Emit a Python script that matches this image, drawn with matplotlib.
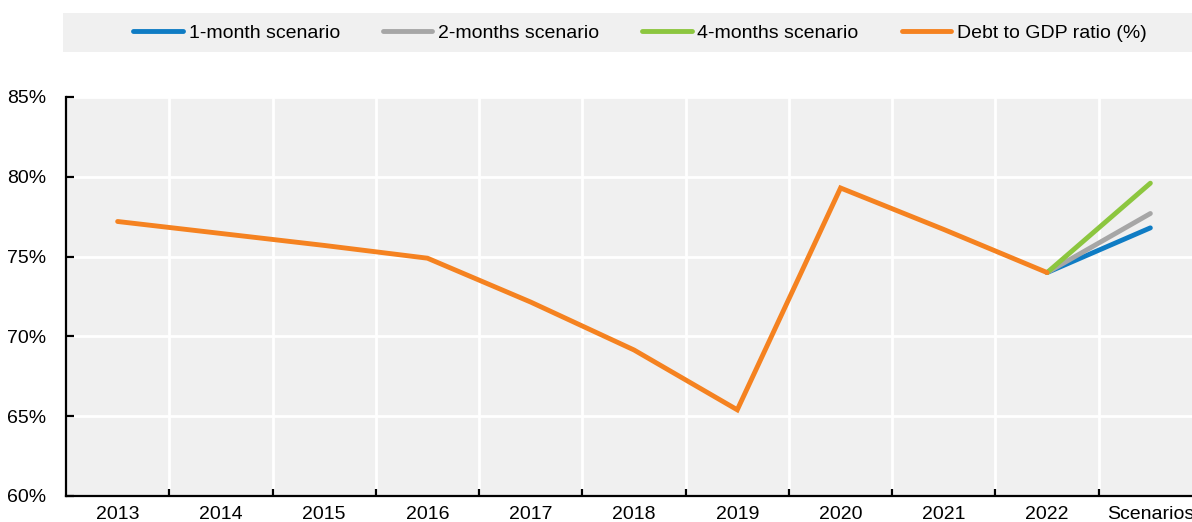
import matplotlib.pyplot as plt
import numpy as np

# Values (%)
categories = ["2013", "2014", "2015", "2016", "2017", "2018", "2019",
              "2020", "2021", "2022", "Scenarios"]
debt_ratio = [77.2, 76.45, 75.7, 74.9, 72.15, 69.15, 65.4, 79.3, 76.7, 74.0]
scenario_1m = 76.8
scenario_2m = 77.7
scenario_4m = 79.6
yticks = [60, 65, 70, 75, 80, 85]

colors = {"1m": "#0f7cc4", "2m": "#a6a6a6", "4m": "#8cc63f", "debt": "#f58220"}
bg = "#f0f0f0"

plt.rcParams["font.family"] = ["Liberation Sans Narrow", "Liberation Sans", "DejaVu Sans"]

x = np.arange(len(categories))
last = len(debt_ratio) - 1

fig = plt.figure(figsize=(11.92, 5.22), dpi=100)
# the plot area runs past the right edge of the figure, as in the original
ax = fig.add_axes([66 / 1192, 26 / 522, (1202 - 66) / 1192, 399 / 522])
ax.set_facecolor(bg)

lw = 3.5
for key, end, label in [("1m", scenario_1m, "1-month scenario"),
                        ("2m", scenario_2m, "2-months scenario"),
                        ("4m", scenario_4m, "4-months scenario")]:
    ax.plot(x[last:], [debt_ratio[-1], end], color=colors[key], lw=lw,
            solid_capstyle="round", label=label)
ax.plot(x[:last + 1], debt_ratio, color=colors["debt"], lw=lw,
        solid_capstyle="round", solid_joinstyle="miter", label="Debt to GDP ratio (%)")

ax.set_xlim(-0.5, len(categories) - 0.5)
ax.set_ylim(60, 85)
ax.set_yticks(yticks)
ax.set_yticklabels([f"{v}%" for v in yticks])
ax.set_xticks(x)
ax.set_xticklabels(categories)
ax.set_xticks(x[:-1] + 0.5, minor=True)

ax.grid(False)
for v in yticks[1:]:
    ax.axhline(v, color="white", lw=2, zorder=0.5)
for b in x[:-1] + 0.5:
    ax.axvline(b, color="white", lw=2, zorder=0.5)

for s in ["top", "right"]:
    ax.spines[s].set_visible(False)
for s in ["left", "bottom"]:
    ax.spines[s].set_linewidth(1.6)
    ax.spines[s].set_color("black")

ax.tick_params(axis="x", which="major", length=0, pad=7, labelsize=14)
ax.tick_params(axis="x", which="minor", direction="in", length=5, width=1.6)
ax.tick_params(axis="y", direction="in", length=6, width=1.6, pad=14, labelsize=14)

# legend band
fig.patches.append(plt.Rectangle((63 / 1192, 1 - 52 / 522), 1.0, 39 / 522,
                                 transform=fig.transFigure, facecolor=bg,
                                 edgecolor="none", zorder=0))
handles, labels = ax.get_legend_handles_labels()
fig.legend(handles, labels, loc="center", bbox_to_anchor=(640 / 1192, 1 - 33 / 522),
           ncol=4, frameon=False, fontsize=14, handlelength=2.55,
           handletextpad=0.3, columnspacing=2.2)

fig.savefig("out.png", dpi=100)
